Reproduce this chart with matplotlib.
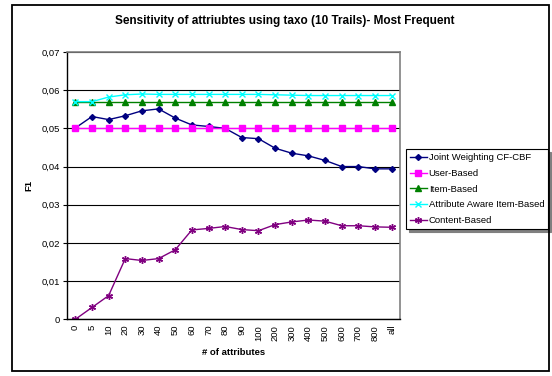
import matplotlib
matplotlib.use("Agg")
import matplotlib.pyplot as plt
from matplotlib.patches import Rectangle
from matplotlib.ticker import FuncFormatter

plt.rcParams['font.family'] = ['Liberation Sans', 'DejaVu Sans']

# number of attributes used
cats = ['0', '5', '10', '20', '30', '40', '50', '60', '70', '80', '90',
        '100', '200', '300', '400', '500', '600', '700', '800', 'all']

joint = [0.0501, 0.0531, 0.0523, 0.0533, 0.0546, 0.0551, 0.0527, 0.0509, 0.0505, 0.0500,
         0.0476, 0.0473, 0.0448, 0.0435, 0.0428, 0.0416, 0.0400, 0.0400, 0.0394, 0.0394]
user_based = [0.050] * 20
item_based = [0.057] * 20
attr_item = [0.0570, 0.0570, 0.0582, 0.0588, 0.0590, 0.0589, 0.0589, 0.0589, 0.0589, 0.0589,
             0.0589, 0.0589, 0.0588, 0.0587, 0.0586, 0.0586, 0.0586, 0.0586, 0.0586, 0.0586]
content = [0.0, 0.0031, 0.0062, 0.0159, 0.0154, 0.0159, 0.0182, 0.0234, 0.0238, 0.0243,
           0.0235, 0.0232, 0.0248, 0.0255, 0.0260, 0.0257, 0.0245, 0.0245, 0.0242, 0.0241]

W, H = 552, 376
fig = plt.figure(figsize=(W / 100, H / 100), dpi=100)

# outer chart border
fig.patches.append(Rectangle((12 / W, 5 / H), 537 / W, 366 / H, transform=fig.transFigure,
                             fill=False, edgecolor='black', linewidth=1.3))

ax = fig.add_axes([67 / W, (H - 319.3) / H, 333 / W, 267.3 / H])
x = list(range(len(cats)))

ax.plot(x, joint, color='#000080', marker='D', markersize=3, linewidth=1.0,
        label='Joint Weighting CF-CBF')
ax.plot(x, user_based, color='#FF00FF', marker='s', markersize=4, linewidth=1.0,
        label='User-Based')
ax.plot(x, item_based, color='#008000', marker='^', markersize=4, linewidth=1.0,
        label='Item-Based')
ax.plot(x, attr_item, color='#00FFFF', marker='x', markersize=4, markeredgewidth=1.0,
        linewidth=1.0, label='Attribute Aware Item-Based')
ax.plot(x, content, color='#800080', marker=(6, 2, 0), markersize=5, markeredgewidth=1.0,
        linewidth=1.0, label='Content-Based')

ax.set_xlim(-0.5, len(cats) - 0.5)
ax.set_ylim(0, 0.07)
ax.set_yticks([i / 100 for i in range(8)])
ax.yaxis.set_major_formatter(FuncFormatter(lambda v, p: '0' if v == 0 else ('%.2f' % v).replace('.', ',')))
ax.set_xticks(x)
ax.set_xticklabels(cats, rotation=90)

ax.grid(axis='y', color='black', linewidth=0.8)
ax.set_axisbelow(True)
for s in ['top', 'right']:
    ax.spines[s].set_color('#808080')
    ax.spines[s].set_linewidth(1.2)
for s in ['left', 'bottom']:
    ax.spines[s].set_color('black')
    ax.spines[s].set_linewidth(1.0)

ax.tick_params(axis='y', length=3, width=0.8, labelsize=6.8, pad=2)
ax.tick_params(axis='x', length=0, labelsize=6.8, pad=4)

ax.set_xlabel('# of attributes', fontsize=6.8, fontweight='bold', labelpad=5)
ax.set_ylabel('F1', fontsize=6.8, fontweight='bold', labelpad=6)

fig.text(285 / W, 1 - 20.7 / H, 'Sensitivity of attriubtes using taxo (10 Trails)- Most Frequent',
         ha='center', va='center', fontsize=8.5, fontweight='bold')

leg = ax.legend(loc='upper left', bbox_to_anchor=(406 / W, 1 - 149.3 / H),
                bbox_transform=fig.transFigure, fontsize=6.8, frameon=True, fancybox=False,
                edgecolor='black', framealpha=1, shadow={'color': '#808080', 'alpha': 1},
                handlelength=1.8, handletextpad=0.2, labelspacing=0.72, borderpad=0.4,
                borderaxespad=0)
leg.get_frame().set_linewidth(0.8)

fig.savefig('out.png', dpi=100)
